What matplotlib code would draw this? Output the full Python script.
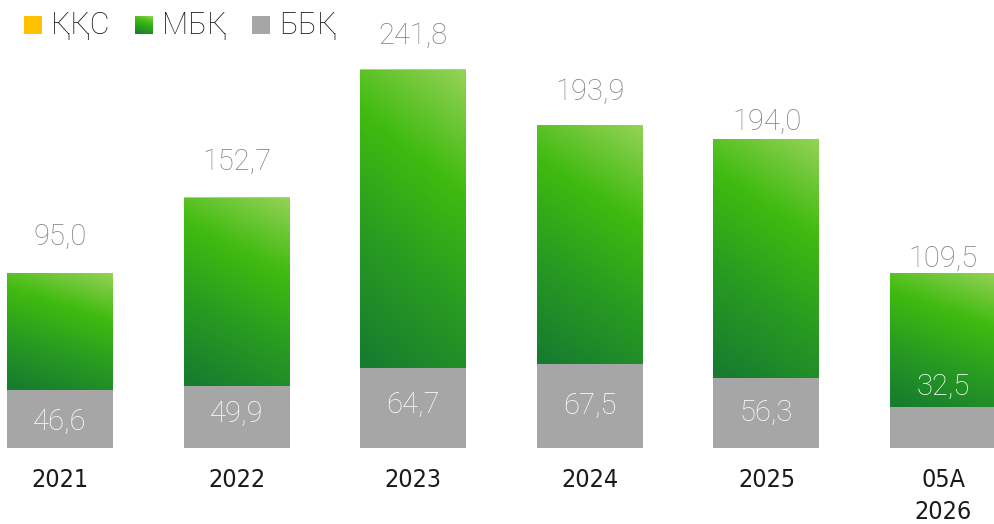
import numpy as np
import matplotlib
matplotlib.use("Agg")
import matplotlib.pyplot as plt
from matplotlib.patches import Rectangle
from matplotlib.colors import LinearSegmentedColormap

# Data
categories = ["2021", "2022", "2023", "2024", "2025", "05A\n2026"]
bbk = [46.6, 49.9, 64.7, 67.5, 56.3, 32.5]        # ББҚ
mbk = [95.0, 152.7, 241.8, 193.9, 194.0, 109.5]   # МБҚ
kks = [0.0, 0.6, 0.8, 0.5, 0.0, 0.0]              # ҚҚС

# Label offsets (points) for the value annotations
top_label_offset = [26, 25, 24, 24, 12, 10]
inner_label_offset = [-2, 2, 2, 0, 0, 29]

GRAY = "#a6a6a6"
ORANGE = "#ffc000"
green_cmap = LinearSegmentedColormap.from_list(
    "mbk", [(0.0, "#167a30"), (0.35, "#279a22"), (0.68, "#40bb10"), (1.0, "#95d257")])

FONT = ["Roboto", "DejaVu Sans"]

fig = plt.figure(figsize=(9.95, 5.24), dpi=100)
W, H = 995, 524
base_px = 447.5
ax = fig.add_axes([0, (H - base_px) / H, 1, base_px / H])

x = np.arange(len(categories))
width = 0.6
ax.set_xlim(-0.34, 5.294)
ax.set_ylim(0, base_px / 1.232)

# gradient texture (u across, v up)
u = np.linspace(0, 1, 60)
v = np.linspace(0, 1, 200)
U, V = np.meshgrid(u, v)
T = np.clip(0.78 * V + 0.22 * U, 0, 1)
grad = green_cmap(T)

for i in range(len(categories)):
    ax.bar(x[i], bbk[i], width=width, color=GRAY, linewidth=0)
    left = x[i] - width / 2
    rect = Rectangle((left, bbk[i]), width, mbk[i], facecolor="none", edgecolor="none")
    ax.add_patch(rect)
    im = ax.imshow(grad, origin="lower", extent=(left, left + width, bbk[i], bbk[i] + mbk[i]),
                   aspect="auto", interpolation="bilinear", zorder=2)
    im.set_clip_path(rect)
    if kks[i] > 0:
        ax.bar(x[i], kks[i], bottom=bbk[i] + mbk[i], width=width, color=ORANGE,
               linewidth=0, zorder=3)
    total = bbk[i] + mbk[i] + kks[i]
    ax.annotate(f"{mbk[i]:.1f}".replace(".", ","), (x[i], total),
                xytext=(0, top_label_offset[i]), textcoords="offset points",
                ha="center", va="center", fontsize=21, color="#7f7f7f",
                family=FONT, fontweight="light", zorder=4)
    ax.annotate(f"{bbk[i]:.1f}".replace(".", ","), (x[i], bbk[i] / 2),
                xytext=(0, inner_label_offset[i]), textcoords="offset points",
                ha="center", va="center", fontsize=21, color="white",
                family=FONT, fontweight="light", zorder=4)

ax.set_xticks(x)
ax.set_xticklabels(categories, family="DejaVu Sans", stretch="condensed", fontsize=18,
                   color="#1a1a1a", linespacing=1.4)
ax.tick_params(axis="x", length=0, pad=15)
ax.set_yticks([])
for s in ax.spines.values():
    s.set_visible(False)

# Legend
legend_items = [("ҚҚС", ORANGE, 24, 51), ("МБҚ", None, 135, 162), ("ББҚ", GRAY, 252, 279)]
sq = 18
sq_top = 16
for label, color, sx, tx in legend_items:
    if color is None:
        lax = fig.add_axes([sx / W, (H - sq_top - sq) / H, sq / W, sq / H])
        lax.imshow(grad, origin="lower", aspect="auto", extent=(0, 1, 0, 1),
                   interpolation="bilinear")
        lax.axis("off")
    else:
        fig.patches.append(Rectangle((sx / W, (H - sq_top - sq) / H), sq / W, sq / H,
                                     transform=fig.transFigure, facecolor=color,
                                     edgecolor="none"))
    fig.text(tx / W, (H - sq_top - sq / 2) / H, label, family=FONT, fontweight="light",
             fontsize=22, color="#1a1a1a", ha="left", va="center")

fig.savefig("out.png", dpi=100)
